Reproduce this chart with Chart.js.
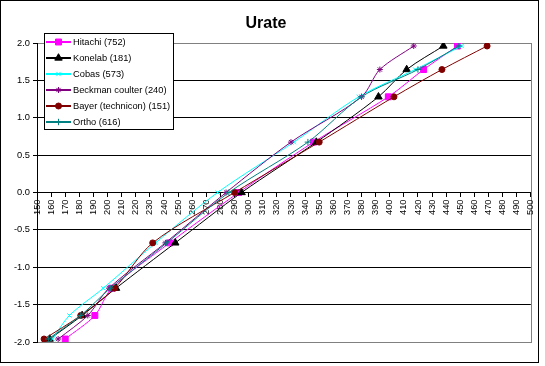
<!DOCTYPE html>
<html>
<head>
<meta charset="utf-8">
<script src="https://cdn.jsdelivr.net/npm/chart.js@4/dist/chart.umd.min.js"></script>
<style>
  html, body { margin: 0; padding: 0; background: #fff; }
  #wrap { width: 545px; height: 366px; position: relative; }
</style>
</head>
<body>
<div id="wrap"><canvas id="c" width="545" height="366"></canvas></div>
<script>
// ---- data ----
const title = 'Urate';
const zScores = [-1.96, -1.645, -1.28, -0.674, 0, 0.674, 1.28, 1.645, 1.96];
const seriesNames = ['Hitachi (752)', 'Konelab (181)', 'Cobas (573)', 'Beckman coulter (240)', 'Bayer (technicon) (151)', 'Ortho (616)'];
const hitachi = [170, 191, 203, 244, 293, 346, 399, 424, 448];
const konelab = [159, 182, 206, 248, 295, 348, 392, 412, 438];
const cobas   = [161, 173, 197, 234, 278, 332, 378, 418, 451];
const beckman = [165, 186, 201, 241, 284, 330, 380, 393, 417];
const bayer   = [155, 181, 205, 232, 290, 350, 403, 437, 469];
const ortho   = [158, 181, 202, 242, 286, 342, 380, 420, 449];
const xMin = 150, xMax = 500, xStep = 10;
const yMin = -2, yMax = 2, yStep = 0.5;

// ---- styles ----
const seriesValues = [hitachi, konelab, cobas, beckman, bayer, ortho];
const colors = ['#FF00FF', '#000000', '#00FFFF', '#800080', '#800000', '#008080'];
const styles = ['rect', 'triangle', 'crossRot', 'star', 'circle', 'cross'];
const radii = [4.2, 4.3, 3, 3, 3, 3.2];

const FONT = '"Liberation Sans", Arial, sans-serif';
Chart.defaults.font.family = FONT;
Chart.defaults.font.size = 9.3;
Chart.defaults.color = '#000';

const datasets = seriesNames.map((name, i) => ({
  label: name,
  data: seriesValues[i].map((v, k) => ({ x: v, y: zScores[k] })),
  showLine: true,
  borderColor: colors[i],
  backgroundColor: colors[i],
  borderWidth: 1,
  tension: 0.3,
  pointStyle: styles[i],
  pointRadius: radii[i],
  pointBorderWidth: 1,
  pointBackgroundColor: colors[i],
  pointBorderColor: colors[i],
  order: seriesNames.length - i
}));

const plotFrame = {
  id: 'plotFrame',
  beforeDraw(chart) {
    const a = chart.chartArea, ctx = chart.ctx;
    ctx.save();
    ctx.strokeStyle = '#808080';
    ctx.lineWidth = 1;
    ctx.strokeRect(Math.round(a.left) + 0.5, Math.round(a.top) + 0.5,
                   Math.round(a.right - a.left), Math.round(a.bottom - a.top));
    ctx.restore();
  },
  afterDraw(chart) {
    const ctx = chart.ctx;
    ctx.save();
    // legend box
    const bx = 44.5, by = 33.5, bw = 129, bh = 96;
    ctx.fillStyle = '#fff';
    ctx.fillRect(bx, by, bw, bh);
    ctx.strokeStyle = '#000';
    ctx.lineWidth = 1;
    ctx.strokeRect(bx, by, bw, bh);
    ctx.font = '9.3px ' + FONT;
    ctx.textBaseline = 'middle';
    ctx.textAlign = 'left';
    chart.data.datasets.forEach((ds, i) => {
      const cy = 42 + i * 16;
      ctx.strokeStyle = ds.borderColor;
      ctx.lineWidth = 2;
      ctx.beginPath();
      ctx.moveTo(46, cy);
      ctx.lineTo(71, cy);
      ctx.stroke();
      ctx.fillStyle = ds.borderColor;
      ctx.strokeStyle = ds.borderColor;
      ctx.lineWidth = 1;
      if (Chart.helpers && Chart.helpers.drawPoint) {
        Chart.helpers.drawPoint(ctx, { pointStyle: ds.pointStyle, radius: ds.pointRadius, borderWidth: 1, rotation: 0 }, 58.5, cy);
      }
      ctx.fillStyle = '#000';
      ctx.fillText(ds.label, 73, cy + 0.5);
    });
    // outer chart frame
    ctx.strokeStyle = '#000';
    ctx.lineWidth = 1;
    ctx.strokeRect(0.5, 0.5, 538, 362);
    ctx.restore();
  }
};

new Chart(document.getElementById('c'), {
  type: 'scatter',
  data: { datasets },
  options: {
    responsive: false,
    animation: false,
    devicePixelRatio: 1,
    layout: { padding: { left: 0, top: 3, right: 13, bottom: 24 } },
    plugins: {
      legend: { display: false },
      tooltip: { enabled: false },
      title: {
        display: true,
        text: title,
        color: '#000',
        font: { family: FONT, size: 16, weight: 'bold' },
        padding: { top: 11, bottom: 9.8 }
      }
    },
    scales: {
      x: {
        type: 'linear',
        axis: 'x',
        position: { y: 0 },
        min: xMin, max: xMax,
        afterFit(scale) { scale.height = 0; },
        grid: { drawOnChartArea: false, drawTicks: true, tickLength: 4, tickColor: '#000' },
        border: { display: true, color: '#000', width: 1 },
        ticks: {
          stepSize: xStep,
          autoSkip: false,
          maxRotation: 90,
          minRotation: 90,
          padding: 3,
          color: '#000',
          font: { size: 9.3 },
          callback: (v) => String(v)
        }
      },
      y: {
        type: 'linear',
        position: 'left',
        min: yMin, max: yMax,
        afterFit(scale) { scale.width = 37; },
        grid: {
          color: (c) => (c.tick && Math.abs(c.tick.value) === 2) ? 'rgba(0,0,0,0)' : '#000',
          lineWidth: 1,
          drawTicks: true,
          tickLength: 4,
          tickColor: '#000'
        },
        border: { display: true, color: '#000', width: 1 },
        ticks: {
          stepSize: yStep,
          padding: 3,
          color: '#000',
          font: { size: 9.3 },
          callback: (v) => Number(v).toFixed(1)
        }
      }
    }
  },
  plugins: [plotFrame]
});
</script>
</body>
</html>
